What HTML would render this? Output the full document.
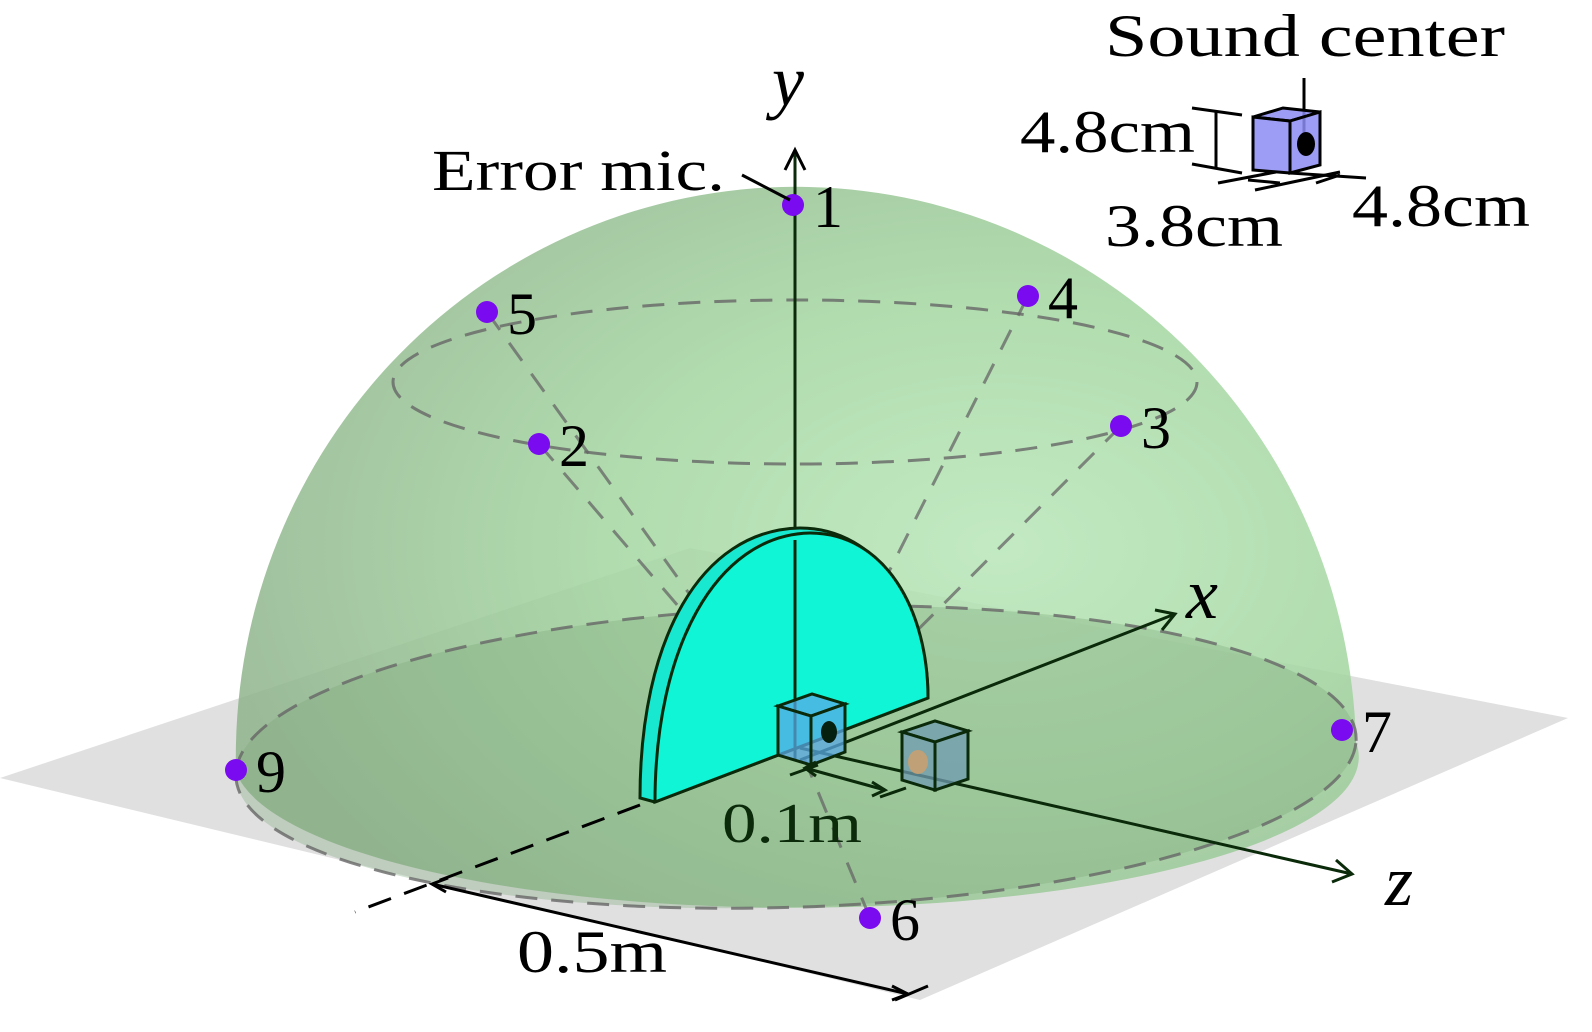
<!DOCTYPE html>
<html><head><meta charset="utf-8"><style>
html,body{margin:0;padding:0;background:#fff;}
svg{display:block;}
text{font-family:"Liberation Serif",serif;fill:#000;}
</style></head><body>
<svg id="fig" width="1592" height="1032" viewBox="0 0 1592 1032">
<defs>
<radialGradient id="domeG" cx="0.68" cy="0.5" r="0.7">
<stop offset="0" stop-color="#b8e6b8"/>
<stop offset="0.5" stop-color="#a3d6a0"/>
<stop offset="1" stop-color="#8fb48c"/>
</radialGradient>
</defs>
<polygon points="0,778 690,548 1568,718 920,1000" fill="#e0e0e0"/>
<path d="M236,772 A560,570 0 0 1 1356,742 A560,150 0 0 1 236,772 Z" fill="url(#domeG)" fill-opacity="0.85"/>
<path d="M236,772 A560,150 -2 0 1 1356,742 A560,150 -2 0 1 236,772 Z" fill="#7fa87a" fill-opacity="0.35"/>
<g id="dashes" stroke="#666" stroke-width="3" stroke-dasharray="22,14" fill="none" stroke-opacity="0.8">
<ellipse cx="795" cy="382" rx="402" ry="82"/>
<path d="M236,772 A560,150 -2 0 1 1356,742"/>
<path d="M236,772 A560,150 -2 0 0 1356,742"/>
</g>
<g id="rays" stroke="#666" stroke-width="3" stroke-dasharray="22,16" stroke-opacity="0.75"></g>
<line x1="795" y1="760" x2="795" y2="150" stroke="#0a2a0a" stroke-width="3"/>
<path d="M785,170 L795,150 L805,170" fill="none" stroke="#000" stroke-width="3"/>
<path d="M640,798 C640,640 700,530 800,528 C880,528 928,610 928,698 L655,802 Z" fill="#19e8d0" stroke="#0a2a0a" stroke-width="3"/>
<path d="M655,802 C655,650 715,535 810,533 C885,533 928,610 928,698 Z" fill="#0ff5d6" stroke="#0a2a0a" stroke-width="3"/>
<line x1="795" y1="540" x2="795" y2="760" stroke="#0a2a0a" stroke-width="3"/>
<line x1="800" y1="760" x2="1175" y2="614" stroke="#0a2a0a" stroke-width="3"/>
<path d="M1155,610 L1175,614 L1162,630" fill="none" stroke="#0a2a0a" stroke-width="3"/>
<line x1="800" y1="748" x2="1352" y2="874" stroke="#0a2a0a" stroke-width="3"/>
<path d="M1336,860 L1352,874 L1332,882" fill="none" stroke="#0a2a0a" stroke-width="3"/>
<line x1="640" y1="805" x2="355" y2="912" stroke="#000" stroke-width="3" stroke-dasharray="24,14"/>
<g stroke="#0a2a0a" stroke-width="3" fill="#5aa8e6" fill-opacity="0.75">
<polygon points="778,706 812,694 845,704 811,716"/>
<polygon points="778,706 811,716 811,765 778,755"/>
<polygon points="811,716 845,704 845,752 811,765"/>
<ellipse cx="829" cy="732" rx="8" ry="11" fill="#062010" fill-opacity="1" stroke="none"/>
</g>
<g stroke="#0a2a0a" stroke-width="3" fill="#6f9ab0" fill-opacity="0.75">
<polygon points="902,732 935,721 968,731 935,742"/>
<polygon points="902,732 935,742 935,790 902,780"/>
<polygon points="935,742 968,731 968,779 935,790"/>
<ellipse cx="918" cy="762" rx="10" ry="12" fill="#c8a070" fill-opacity="0.9" stroke="none"/>
</g>
<g stroke="#0a2a0a" stroke-width="3" fill="none">
<line x1="805" y1="768" x2="885" y2="790"/>
<line x1="790" y1="775" x2="818" y2="765"/>
<line x1="880" y1="797" x2="906" y2="788"/>
<path d="M816,762 L805,768 L816,776"/>
<path d="M872,782 L885,790 L872,796"/>
</g>
<text x="722" y="842" font-size="56" textLength="140" lengthAdjust="spacingAndGlyphs" style="fill:#0a2a0a">0.1m</text>
<g stroke="#000" stroke-width="3" fill="none">
<line x1="432" y1="884" x2="908" y2="994"/>
<path d="M448,878 L432,884 L446,892"/>
<path d="M892,986 L908,994 L892,1000"/>
<line x1="895" y1="1000" x2="928" y2="986"/>
</g>
<text x="517" y="972" font-size="60" textLength="150" lengthAdjust="spacingAndGlyphs">0.5m</text>
<g id="points"></g>
<line x1="742" y1="175" x2="790" y2="200" stroke="#000" stroke-width="3"/>
<text x="432" y="190" font-size="58" textLength="293" lengthAdjust="spacingAndGlyphs">Error mic.</text>
<text x="772" y="105" font-size="72" font-style="italic">y</text>
<text x="1186" y="618" font-size="72" font-style="italic">x</text>
<text x="1385" y="905" font-size="72" font-style="italic">z</text>
<g>
<text x="1105" y="56" font-size="60" textLength="400" lengthAdjust="spacingAndGlyphs">Sound center</text>
<line x1="1304" y1="78" x2="1304" y2="140" stroke="#000" stroke-width="3"/>
<g stroke="#000" stroke-width="3" fill="#8c8cf5" fill-opacity="0.85">
<polygon points="1253,117 1283,108 1320,112 1290,121"/>
<polygon points="1253,117 1290,121 1290,173 1253,170"/>
<polygon points="1290,121 1320,112 1320,165 1290,173"/>
</g>
<ellipse cx="1306" cy="144" rx="9" ry="12" fill="#000"/>
<g stroke="#000" stroke-width="3">
<line x1="1192" y1="108" x2="1242" y2="115"/>
<line x1="1192" y1="164" x2="1242" y2="173"/>
<line x1="1216" y1="111" x2="1216" y2="168"/>
<line x1="1218" y1="183" x2="1276" y2="172"/>
<line x1="1255" y1="190" x2="1340" y2="172"/>
<line x1="1248" y1="180" x2="1280" y2="183"/>
<line x1="1290" y1="173" x2="1366" y2="178"/>
<line x1="1316" y1="183" x2="1340" y2="175"/>
</g>
<text x="1020" y="152" font-size="60" textLength="175" lengthAdjust="spacingAndGlyphs">4.8cm</text>
<text x="1105" y="246" font-size="60" textLength="178" lengthAdjust="spacingAndGlyphs">3.8cm</text>
<text x="1352" y="226" font-size="60" textLength="178" lengthAdjust="spacingAndGlyphs">4.8cm</text>
</g>
</svg>
<script>
const labels=["1","2","3","4","5","6","7","9"];
const px=[793,539,1121,1028,487,870,1342,236];
const py=[205,444,426,296,312,918,730,770];
const origin=[800,748];
const rayFrom=["2","3","4","5","6"];
const ns="http://www.w3.org/2000/svg";
const rays=document.getElementById('rays');
const pts=document.getElementById('points');
for(let i=0;i<labels.length;i++){
  if(rayFrom.includes(labels[i])){
    const l=document.createElementNS(ns,'line');
    
    
    l.setAttribute('x1',px[i]);l.setAttribute('y1',py[i]);
    l.setAttribute('x2',origin[0]);l.setAttribute('y2',origin[1]);
    rays.appendChild(l);
  }
  const c=document.createElementNS(ns,'circle');
  
  
  c.setAttribute('cx',px[i]);c.setAttribute('cy',py[i]);c.setAttribute('r',11);
  c.setAttribute('fill','#7a0af0');
  pts.appendChild(c);
  const t=document.createElementNS(ns,'text');
  
  
  t.setAttribute('x',px[i]+20);t.setAttribute('y',py[i]+22);
  t.setAttribute('font-size','60');
  t.textContent=labels[i];
  pts.appendChild(t);
}
</script>
</body></html>
